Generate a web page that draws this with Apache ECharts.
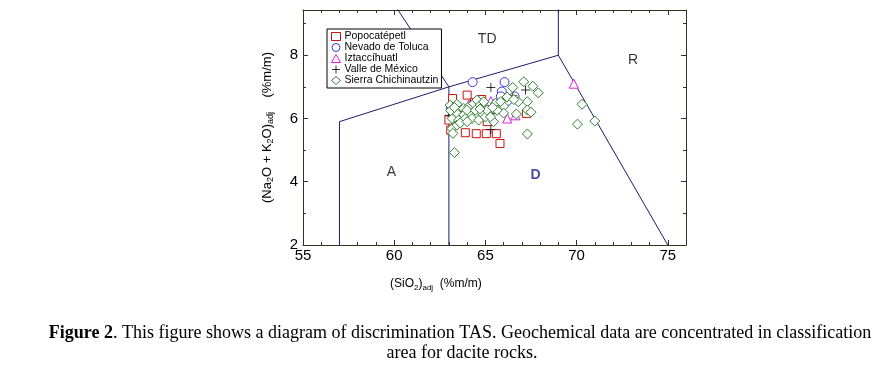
<!DOCTYPE html>
<html>
<head>
<meta charset="utf-8">
<script src="https://cdn.jsdelivr.net/npm/echarts@6/dist/echarts.min.js"></script>
<style>
  html, body { margin: 0; padding: 0; background: #fff; }
  #chart { width: 885px; height: 372px; }
</style>
</head>
<body>
<div id="chart"></div>
<script>
// sample points: [SiO2, Na2O + K2O]
const popocatepetl = [
  [63.2, 6.63], [64.0, 6.74], [64.7, 6.27], [63.1, 5.63], [63.0, 5.95],
  [63.9, 5.55], [64.5, 5.52], [65.05, 5.52], [65.6, 5.52], [65.8, 5.21],
  [67.25, 6.16], [65.1, 5.9], [64.4, 6.5], [64.8, 6.6], [63.5, 6.1]
]
const nevadoToluca = [
  [64.3, 7.15], [66.05, 7.15], [65.9, 6.85], [65.85, 6.7], [66.6, 6.7],
  [66.2, 6.55], [63.1, 6.3], [65.5, 6.45]
]
const iztaccihuatl = [
  [69.85, 7.1], [66.2, 6.0], [66.65, 6.1], [65.3, 6.55], [64.6, 6.6],
  [64.1, 6.45], [65.2, 6.15], [65.9, 6.3]
]
const valleMexico = [
  [65.3, 6.98], [66.5, 6.72], [65.3, 5.65], [63.0, 6.1], [67.2, 6.9],
  [66.0, 6.6], [65.4, 6.15]
]
const sierraChichinautzin = [
  [67.1, 7.16], [67.6, 7.02], [67.9, 6.81], [66.5, 6.98], [67.3, 6.53],
  [67.3, 6.27], [67.5, 6.2], [66.7, 6.14], [67.3, 5.51], [70.3, 6.45],
  [70.05, 5.82], [71.0, 5.92], [63.3, 4.92], [66.8, 6.53], [66.0, 6.39],
  [66.0, 6.17], [65.55, 6.48], [65.45, 5.9], [63.07, 6.42], [63.44, 6.45],
  [63.81, 6.32], [64.08, 6.37], [64.36, 6.47], [64.54, 6.58], [64.72, 6.42],
  [64.91, 6.26], [63.44, 6.16], [63.81, 6.11], [64.17, 6.11], [64.54, 6.11],
  [64.82, 6.16], [63.17, 6.0], [63.53, 5.95], [63.9, 6.0], [64.27, 6.0],
  [64.63, 5.95], [65.0, 6.05], [63.17, 5.68], [63.44, 5.79], [63.62, 5.86],
  [63.22, 5.53], [63.99, 6.26], [64.45, 6.26], [64.91, 6.53], [65.09, 6.26],
  [65.28, 6.05], [65.64, 6.26], [65.83, 6.53], [66.19, 6.68], [66.56, 6.6],
  [63.1, 6.25], [63.3, 6.35], [64.0, 5.9], [64.7, 6.3], [65.4, 6.35]
]

// TAS field boundaries
const boundaryMain = [[57, 2], [57, 5.9], [63, 7], [69, 8], [75, 2]]
const boundaryMid = [[63, 2], [63, 7], [57.6, 11.7]]
const boundaryTop = [[69, 8], [69, 13]]

// field names [SiO2, alkali, label]
const fieldLabels = [[65.1, 8.5, 'TD'], [73.1, 7.85, 'R'], [59.85, 4.3, 'A'], [67.75, 4.22, 'D']]

const xMin = 55
const xMax = 76
const yMin = 2
const yMax = 9.43

const axisColor = '#333322'
const lineColor = '#1c1c6c'
const font = 'Liberation Sans, Arial, sans-serif'
const serif = 'Liberation Serif, Times New Roman, serif'

const chart = echarts.init(document.getElementById('chart'), null, { renderer: 'canvas' })

function boundary (data) {
  return {
    type: 'line',
    data: data,
    symbol: 'none',
    silent: true,
    z: 1,
    lineStyle: { color: lineColor, width: 1 }
  }
}

// hollow markers: white fill with a thin coloured outline
function rockSeries (name, data, symbol, size, color) {
  return {
    name: name,
    type: 'scatter',
    data: data,
    symbol: symbol,
    symbolSize: size,
    z: 3,
    itemStyle: { color: '#fff', borderColor: color, borderWidth: 1, opacity: 1 }
  }
}

function frameAxis (min, max, interval, minorSplit, position) {
  return {
    type: 'value',
    position: position,
    min: min,
    max: max,
    interval: interval,
    axisLine: { show: true, lineStyle: { color: axisColor, width: 1 } },
    axisTick: { show: true, inside: true, length: 5, lineStyle: { color: axisColor } },
    minorTick: { show: true, splitNumber: minorSplit, length: 3, lineStyle: { color: axisColor } },
    axisLabel: { show: false },
    splitLine: { show: false }
  }
}

const xMain = frameAxis(xMin, xMax, 5, 5, 'bottom')
xMain.axisLabel = {
  show: true,
  color: '#000',
  fontFamily: font,
  fontSize: 15,
  margin: 3,
  formatter: v => (v % 5 === 0 ? String(v) : '')
}
const yMain = frameAxis(yMin, yMax, 2, 2, 'left')
yMain.axisLabel = {
  show: true,
  color: '#000',
  fontFamily: font,
  fontSize: 15,
  margin: 5,
  formatter: v => (v % 2 === 0 ? String(v) : '')
}
yMain.name = '(Na{s|2}O + K{s|2}O){s|adj}    (%m/m)'
yMain.nameLocation = 'middle'
yMain.nameGap = 28
yMain.nameTextStyle = {
  color: '#000',
  fontFamily: font,
  fontSize: 13,
  rich: { s: { fontSize: 9, fontFamily: font, color: '#000', padding: [7, 0, 0, 0] } }
}

const option = {
  animation: false,
  backgroundColor: '#fff',
  grid: { left: 303, right: 199, top: 10, bottom: 127 },
  xAxis: [xMain, frameAxis(xMin, xMax, 5, 5, 'top')],
  yAxis: [yMain, frameAxis(yMin, yMax, 2, 2, 'right')],
  legend: {
    orient: 'vertical',
    left: 327,
    top: 29,
    padding: [2, 3, 2, 4],
    itemGap: 0,
    itemWidth: 9,
    itemHeight: 8,
    borderColor: '#000',
    borderWidth: 1,
    backgroundColor: '#fff',
    itemStyle: { borderWidth: 1 },
    textStyle: { fontFamily: font, fontSize: 10.5, color: '#000', padding: [0, 0, 0, -1] },
    data: ['Popocatépetl', 'Nevado de Toluca', 'Iztaccíhuatl', 'Valle de México', 'Sierra Chichinautzin']
  },
  series: [
    boundary(boundaryMain),
    boundary(boundaryMid),
    boundary(boundaryTop),
    rockSeries('Popocatépetl', popocatepetl, 'rect', 8, '#cc1111'),
    rockSeries('Nevado de Toluca', nevadoToluca, 'circle', 9, '#3a3ae0'),
    rockSeries('Iztaccíhuatl', iztaccihuatl, 'triangle', 9, '#e020e0'),
    {
      name: 'Valle de México',
      type: 'scatter',
      data: valleMexico,
      symbol: 'path://M5,0V10M0,5H10',
      symbolSize: 9,
      z: 3,
      itemStyle: { color: 'rgba(0,0,0,0)', borderColor: '#000', borderWidth: 1 }
    },
    rockSeries('Sierra Chichinautzin', sierraChichinautzin, 'diamond', 10, '#2f7f2f'),
    {
      type: 'scatter',
      data: fieldLabels.map(f => ({
        value: f,
        // the D field label is bold navy in the source figure
        label: f[2] === 'D' ? { fontWeight: 'bold', color: '#1c1c8c' } : {}
      })),
      symbolSize: 0,
      silent: true,
      z: 2,
      label: {
        show: true,
        position: 'inside',
        fontFamily: font,
        fontSize: 14,
        color: '#000',
        formatter: p => p.value[2]
      },
      labelLayout: { hideOverlap: false },
      itemStyle: { color: 'transparent' }
    }
  ],
  graphic: [
    {
      type: 'text',
      left: 390,
      top: 278,
      style: {
        text: '(SiO{s|2}){s|adj}  (%m/m)',
        fontFamily: font,
        fontSize: 12,
        fill: '#000',
        rich: { s: { fontSize: 8, fontFamily: font, fill: '#000', padding: [7, 0, 0, 0] } }
      }
    },
    {
      type: 'text',
      x: 460,
      y: 333,
      style: {
        text: '{b|Figure 2}. This figure shows a diagram of discrimination TAS. Geochemical data are concentrated in classification',
        align: 'center',
        verticalAlign: 'middle',
        fontFamily: serif,
        fontSize: 18,
        fill: '#000',
        rich: { b: { fontWeight: 'bold', fontFamily: serif, fontSize: 18, fill: '#000' } }
      }
    },
    {
      type: 'text',
      x: 462,
      y: 353,
      style: {
        text: 'area for dacite rocks.',
        align: 'center',
        verticalAlign: 'middle',
        fontFamily: serif,
        fontSize: 18,
        fill: '#000'
      }
    }
  ]
}

chart.setOption(option)
</script>
</body>
</html>
